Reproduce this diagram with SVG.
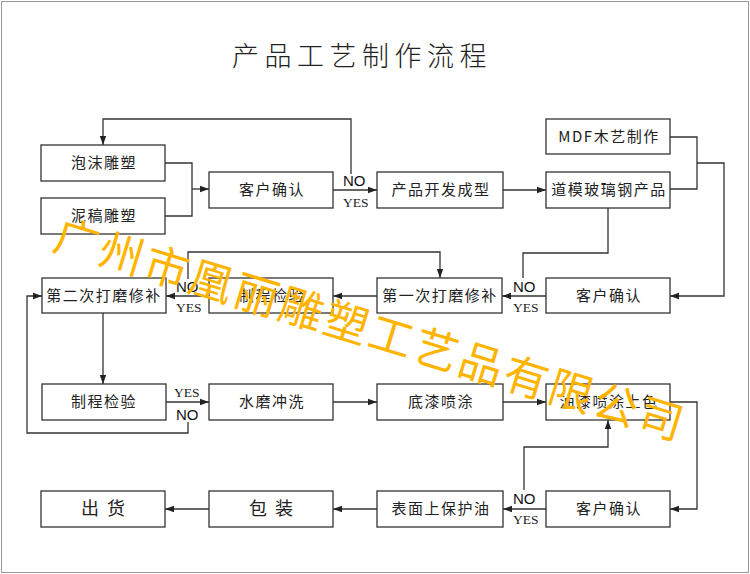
<svg xmlns="http://www.w3.org/2000/svg" width="750" height="574" viewBox="0 0 750 574">
<style>
.box{fill:#fff;stroke:#333;stroke-width:1.3}
.t{font-family:"Noto Sans CJK SC","Noto Sans",sans-serif;font-size:15px;fill:#222;letter-spacing:1.5px;text-anchor:middle}
.tb{font-family:"Noto Sans CJK SC","Noto Sans",sans-serif;font-size:18px;fill:#222;letter-spacing:8px;text-anchor:middle}
.c{fill:none;stroke:#333;stroke-width:1.3}
.no{font-family:"Liberation Sans",Arial,sans-serif;font-size:15px;fill:#111}
.yes{font-family:"Liberation Serif","Times New Roman",serif;font-size:13.5px;fill:#222}
.wm{font-family:"Noto Sans CJK SC",sans-serif;font-size:44px;font-weight:400;fill:#FFB400;letter-spacing:3px}
</style>
<defs>
<marker id="a" markerWidth="10" markerHeight="8" refX="9" refY="4" orient="auto" markerUnits="userSpaceOnUse">
<path d="M0,0.8 L9,4 L0,7.2 Z" fill="#222"/>
</marker>
</defs>
<rect x="0" y="0" width="750" height="574" fill="#fff"/>
<rect x="1.5" y="1.5" width="747" height="571" fill="none" stroke="#999" stroke-width="1"/>
<text x="232" y="66" font-family="'Noto Sans CJK SC',sans-serif" font-size="27" font-weight="300" letter-spacing="5.5" fill="#222">产品工艺制作流程</text>

<g id="connectors">
<polyline class="c" points="165,163 192,163 192,216 165,216"/>
<line class="c" x1="192" y1="189" x2="209" y2="189" marker-end="url(#a)"/>
<line class="c" x1="333" y1="190" x2="377" y2="190" marker-end="url(#a)"/>
<polyline class="c" points="351,174 351,119 103,119 103,145" marker-end="url(#a)"/>
<line class="c" x1="503" y1="190" x2="546" y2="190" marker-end="url(#a)"/>
<polyline class="c" points="670,137 697,137 697,189 670,189"/>
<polyline class="c" points="697,163 724,163 724,296 670,296" marker-end="url(#a)"/>
<line class="c" x1="546" y1="296" x2="502" y2="296" marker-end="url(#a)"/>
<polyline class="c" points="608,208 608,253 523,253 523,278"/>
<line class="c" x1="377" y1="296" x2="333" y2="296" marker-end="url(#a)"/>
<polyline class="c" points="188,279 188,252 440,252 440,278" marker-end="url(#a)"/>
<line class="c" x1="209" y1="296" x2="166" y2="296" marker-end="url(#a)"/>
<line class="c" x1="103" y1="313" x2="103" y2="384" marker-end="url(#a)"/>
<polyline class="c" points="188,422 188,433 27,433 27,296 42,296" marker-end="url(#a)"/>
<line class="c" x1="166" y1="402" x2="209" y2="402" marker-end="url(#a)"/>
<line class="c" x1="333" y1="402" x2="377" y2="402" marker-end="url(#a)"/>
<line class="c" x1="503" y1="402" x2="546" y2="402" marker-end="url(#a)"/>
<polyline class="c" points="670,402 697,402 697,509 670,509" marker-end="url(#a)"/>
<line class="c" x1="546" y1="509" x2="503" y2="509" marker-end="url(#a)"/>
<polyline class="c" points="524,490 524,447 608,447 608,420" marker-end="url(#a)"/>
<line class="c" x1="377" y1="509" x2="333" y2="509" marker-end="url(#a)"/>
<line class="c" x1="209" y1="509" x2="165" y2="509" marker-end="url(#a)"/>
<text class="no" x="343" y="186">NO</text>
<text class="yes" x="343" y="207">YES</text>
<text class="no" x="513" y="292">NO</text>
<text class="yes" x="513" y="312">YES</text>
<text class="no" x="176" y="292">NO</text>
<text class="yes" x="176" y="312">YES</text>
<text class="yes" x="174" y="397">YES</text>
<text class="no" x="176" y="420">NO</text>
<text class="no" x="513" y="504">NO</text>
<text class="yes" x="513" y="524">YES</text>
</g>

<g id="n1"><rect class="box" x="41" y="145" width="124" height="36"/><text class="t" x="104" y="168">泡沫雕塑</text></g>
<g id="n2"><rect class="box" x="41" y="198" width="124" height="36"/><text class="t" x="104" y="221">泥稿雕塑</text></g>
<g id="n3"><rect class="box" x="209" y="172" width="124" height="36"/><text class="t" x="272" y="195">客户确认</text></g>
<g id="n4"><rect class="box" x="377" y="172" width="126" height="36"/><text class="t" x="441" y="195">产品开发成型</text></g>
<g id="n5"><rect class="box" x="546" y="119" width="124" height="35"/><text class="t" x="609" y="142" letter-spacing="0.5">MDF木艺制作</text></g>
<g id="n6"><rect class="box" x="546" y="172" width="124" height="36"/><text class="t" x="609" y="195">道模玻璃钢产品</text></g>
<g id="n7"><rect class="box" x="546" y="278" width="124" height="35"/><text class="t" x="609" y="301">客户确认</text></g>
<g id="n8"><rect class="box" x="377" y="278" width="125" height="35"/><text class="t" x="440" y="301">第一次打磨修补</text></g>
<g id="n9"><rect class="box" x="209" y="278" width="124" height="35"/><text class="t" x="272" y="301">制程检验</text></g>
<g id="n10"><rect class="box" x="42" y="278" width="124" height="35"/><text class="t" x="104" y="301">第二次打磨修补</text></g>
<g id="n11"><rect class="box" x="42" y="384" width="124" height="36"/><text class="t" x="104" y="407">制程检验</text></g>
<g id="n12"><rect class="box" x="209" y="384" width="124" height="36"/><text class="t" x="272" y="407">水磨冲洗</text></g>
<g id="n13"><rect class="box" x="377" y="384" width="126" height="36"/><text class="t" x="441" y="407">底漆喷涂</text></g>
<g id="n14"><rect class="box" x="546" y="384" width="124" height="36"/><text class="t" x="609" y="407">油漆喷涂上色</text></g>
<g id="n15"><rect class="box" x="546" y="491" width="124" height="36"/><text class="t" x="609" y="514">客户确认</text></g>
<g id="n16"><rect class="box" x="377" y="491" width="126" height="36"/><text class="t" x="441" y="514">表面上保护油</text></g>
<g id="n17"><rect class="box" x="209" y="491" width="124" height="36"/><text class="tb" x="275" y="515">包装</text></g>
<g id="n18"><rect class="box" x="41" y="491" width="124" height="36"/><text class="tb" x="107" y="515">出货</text></g>

<text class="wm" transform="translate(51,249) rotate(17)">广州市凰丽雕塑工艺品有限公司</text>
</svg>
